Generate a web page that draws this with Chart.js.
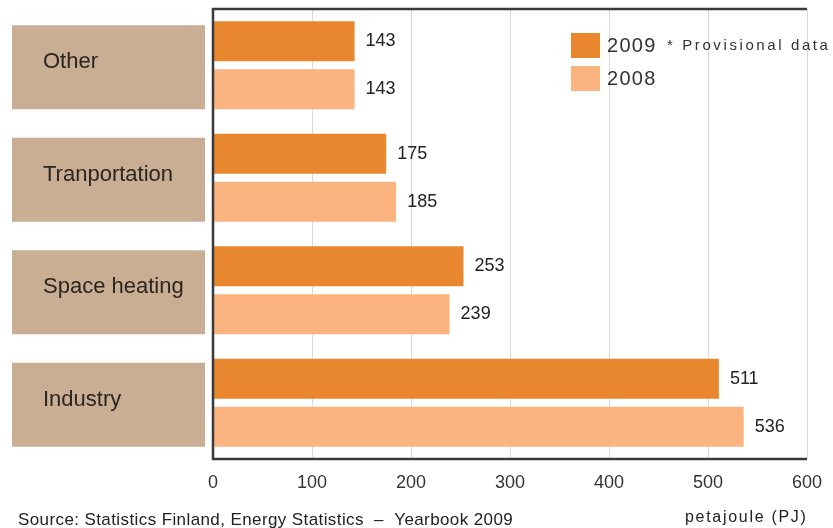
<!DOCTYPE html>
<html>
<head>
<meta charset="utf-8">
<script src="https://cdn.jsdelivr.net/npm/chart.js@4"></script>
<style>
body{margin:0;background:#fff}
</style>
</head>
<body>
<canvas id="chart" width="833" height="528"></canvas>
<script>
const categories = ['Other', 'Tranportation', 'Space heating', 'Industry']
const years = ['2009', '2008']
const values2009 = [143, 175, 253, 511]
const values2008 = [143, 185, 239, 536]
const xTicks = [0, 100, 200, 300, 400, 500, 600]

const dark = '#e8872e'
const light = '#fbb47f'
const tan = '#c9ae93'
const font = '"Liberation Sans", Arial, sans-serif'

// labels boxes, borders, value labels, legend and captions
const decor = {
id:'decor',
afterDraw(chart){
const ctx = chart.ctx
const area = chart.chartArea
const y = chart.scales.y

ctx.save()

// tan label boxes on the left
categories.forEach((c, i) => {
const cy = y.getPixelForValue(i) + 2
ctx.fillStyle = tan
ctx.fillRect(12, cy - 42, 193, 84)
ctx.fillStyle = '#2a2520'
ctx.font = '22px ' + font
ctx.textBaseline = 'middle'
ctx.textAlign = 'left'
ctx.fillText(c, 43, cy - 5)
})

// frame
ctx.strokeStyle = '#3a3a3a'
ctx.lineWidth = 2.5
ctx.beginPath()
ctx.moveTo(area.right, area.top)
ctx.lineTo(area.left, area.top)
ctx.lineTo(area.left, area.bottom)
ctx.lineTo(area.right, area.bottom)
ctx.stroke()

// value labels next to bars
ctx.fillStyle = '#222'
ctx.font = '18px ' + font
ctx.textBaseline = 'middle'
chart.data.datasets.forEach((ds, di) => {
chart.getDatasetMeta(di).data.forEach((el, i) => {
ctx.fillText(ds.data[i], el.x + 11, el.y)
})
})

// legend
chart.data.datasets.forEach((ds, di) => {
const ly = 33 + di * 33
ctx.fillStyle = ds.backgroundColor
ctx.fillRect(571, ly, 29, 25)
ctx.fillStyle = '#333'
ctx.font = '20px ' + font
ctx.letterSpacing = '1.3px'
ctx.fillText(ds.label, 607, ly + 13)
})
ctx.font = '15px ' + font
ctx.letterSpacing = '2.6px'
ctx.fillText('* Provisional data', 667, 46)

// captions
ctx.fillStyle = '#222'
ctx.font = '16px ' + font
ctx.letterSpacing = '1.7px'
ctx.fillText('petajoule (PJ)', 685, 518)
ctx.letterSpacing = '0.4px'
ctx.font = '17px ' + font
ctx.fillText('Source: Statistics Finland, Energy Statistics  \u2013  Yearbook 2009', 18, 520)

ctx.restore()
}
}

new Chart(document.getElementById('chart'), {
type:'bar',
data:{
labels: categories,
datasets:[
{label: years[0], data: values2009, backgroundColor: dark},
{label: years[1], data: values2008, backgroundColor: light}
]
},
options:{
indexAxis:'y',
responsive:false,
animation:false,
categoryPercentage:0.853,
barPercentage:0.833,
layout:{padding:{top:9, right:26, left:0, bottom:0}},
plugins:{legend:{display:false}, tooltip:{enabled:false}},
scales:{
x:{
min:0,
max:600,
afterBuildTicks(scale){ scale.ticks = xTicks.map(v => ({value:v})) },
afterFit(scale){ scale.height = 69; scale.paddingRight = 0 },
ticks:{color:'#333', font:{size:18, family:font}, padding:13},
grid:{color:'#d9d9d9', drawTicks:false},
border:{display:false}
},
y:{
afterFit(scale){ scale.width = 213 },
ticks:{display:false},
grid:{display:false, drawTicks:false},
border:{display:false}
}
}
},
plugins:[decor]
})
</script>
</body>
</html>
